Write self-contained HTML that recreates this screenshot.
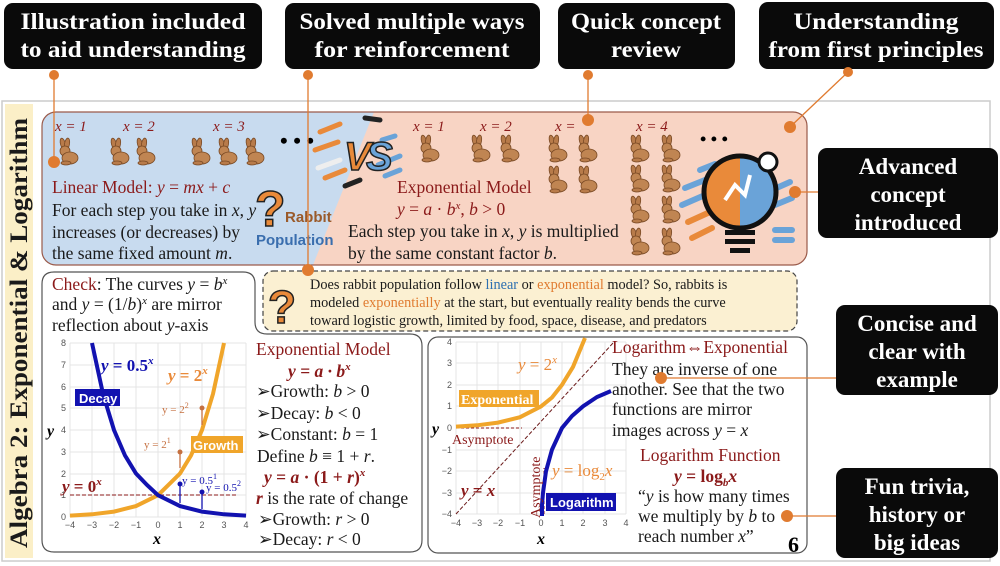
<!DOCTYPE html>
<html><head><meta charset="utf-8"><style>
html,body{margin:0;padding:0;background:#fff;}
svg{display:block;font-family:"Liberation Serif",serif;}
.w{fill:#fff;font-weight:bold;font-size:23px;}
.t{font-size:17.5px;fill:#1a1a1a;}
.r{fill:#8b1a1a;}
.i{font-style:italic;}
.o{fill:#e07b30;}
.bl{fill:#2d6fb0;}
</style></head><body>
<svg width="1000" height="566" viewBox="0 0 1000 566">
<defs>
<g id="rab">
<ellipse cx="7" cy="6" rx="2.5" ry="6" fill="#b87b4a" stroke="#7a4a25" stroke-width="0.8" transform="rotate(-15 7 6)"/>
<ellipse cx="11" cy="6" rx="2.5" ry="6" fill="#b87b4a" stroke="#7a4a25" stroke-width="0.8" transform="rotate(10 11 6)"/>
<circle cx="9" cy="13" r="5" fill="#c08552" stroke="#7a4a25" stroke-width="0.8"/>
<ellipse cx="14" cy="20" rx="8" ry="6" fill="#c08552" stroke="#7a4a25" stroke-width="0.8"/>
<ellipse cx="10" cy="25" rx="5" ry="2" fill="#b87b4a" stroke="#7a4a25" stroke-width="0.8"/>
</g>
</defs>
<rect x="2" y="101" width="988" height="460" fill="#fff" stroke="#ccc" stroke-width="1.5"/>
<rect x="5" y="104" width="28" height="454" fill="#fbefc7"/>
<text transform="translate(27,548) rotate(-90)" font-size="25" font-weight="bold" fill="#1a1a1a" textLength="430" lengthAdjust="spacingAndGlyphs">Algebra 2: Exponential &amp; Logarithm</text>

<clipPath id="tp"><rect x="42" y="112" width="765" height="153" rx="14"/></clipPath>
<g clip-path="url(#tp)">
<rect x="42" y="112" width="765" height="153" fill="#f8d4c4"/>
<polygon points="42,112 374,112 313,265 42,265" fill="#c8dbef"/>
</g>
<rect x="42" y="112" width="765" height="153" rx="14" fill="none" stroke="#9a5a4a" stroke-width="1.2"/>
<g class="r i" font-size="15">
<text x="55" y="131">x = 1</text><text x="123" y="131">x = 2</text><text x="213" y="131">x = 3</text>
<text x="413" y="131">x = 1</text><text x="480" y="131">x = 2</text><text x="555" y="131">x =</text><text x="636" y="131">x = 4</text>
</g>
<text x="280" y="148" font-size="22" font-weight="bold">• • •</text>
<text x="700" y="145" font-size="18" font-weight="bold">• • •</text>
<use href="#rab" x="56" y="138"/>
<use href="#rab" x="107" y="138"/><use href="#rab" x="133" y="138"/>
<use href="#rab" x="188" y="138"/><use href="#rab" x="215" y="138"/><use href="#rab" x="242" y="138"/>
<use href="#rab" x="417" y="135"/>
<use href="#rab" x="468" y="135"/><use href="#rab" x="497" y="135"/>
<use href="#rab" x="545" y="135"/><use href="#rab" x="575" y="135"/>
<use href="#rab" x="545" y="166"/><use href="#rab" x="575" y="166"/>
<use href="#rab" x="627" y="135"/><use href="#rab" x="658" y="135"/>
<use href="#rab" x="627" y="165"/><use href="#rab" x="658" y="165"/>
<use href="#rab" x="627" y="196"/><use href="#rab" x="658" y="196"/>
<use href="#rab" x="627" y="228"/><use href="#rab" x="658" y="228"/>
<g stroke-linecap="round" stroke-width="5">
<line x1="320" y1="132" x2="340" y2="124" stroke="#e98a3a"/><line x1="315" y1="150" x2="338" y2="142" stroke="#e98a3a"/>
<line x1="318" y1="168" x2="340" y2="160" stroke="#eee"/><line x1="325" y1="178" x2="345" y2="170" stroke="#e98a3a"/>
<line x1="345" y1="186" x2="360" y2="180" stroke="#222"/><line x1="365" y1="118" x2="380" y2="120" stroke="#222"/>
<line x1="382" y1="140" x2="395" y2="136" stroke="#6aa3d8"/><line x1="378" y1="165" x2="400" y2="156" stroke="#6aa3d8"/>
<line x1="385" y1="176" x2="400" y2="170" stroke="#6aa3d8"/>
</g>
<text x="344" y="170" font-family="Liberation Sans,sans-serif" font-size="40" font-weight="bold" font-style="italic" fill="#e98a3a" stroke="#222" stroke-width="1.5">V</text>
<text x="366" y="170" font-family="Liberation Sans,sans-serif" font-size="40" font-weight="bold" font-style="italic" fill="#6aa3d8" stroke="#222" stroke-width="1.5">S</text>
<text x="255" y="226" font-family="Liberation Sans,sans-serif" font-size="50" font-weight="bold" fill="#e98a3a" stroke="#222" stroke-width="1.5">?</text>
<text x="285" y="222" font-family="Liberation Sans,sans-serif" font-size="15" font-weight="bold" fill="#9a5a2a">Rabbit</text>
<text x="256" y="245" font-family="Liberation Sans,sans-serif" font-size="15" font-weight="bold" fill="#3a6eae">Population</text>
<g transform="translate(740,200)">
<g stroke-linecap="round" stroke-width="6">
<line x1="-55" y1="-12" x2="-30" y2="-22" stroke="#6aa3d8"/><line x1="-58" y1="5" x2="-35" y2="-5" stroke="#6aa3d8"/>
<line x1="-52" y1="22" x2="-30" y2="12" stroke="#e98a3a"/><line x1="-48" y1="38" x2="-28" y2="28" stroke="#e98a3a"/>
<line x1="-40" y1="-30" x2="-25" y2="-36" stroke="#6aa3d8"/>
<line x1="32" y1="-10" x2="50" y2="-18" stroke="#6aa3d8"/><line x1="35" y1="5" x2="52" y2="-2" stroke="#6aa3d8"/>
<line x1="35" y1="30" x2="52" y2="30" stroke="#6aa3d8"/><line x1="35" y1="40" x2="52" y2="40" stroke="#6aa3d8"/>
</g>
<circle cx="0" cy="-8" r="36" fill="#6aa3d8"/>
<path d="M0,-44 A36,36 0 0,0 0,28 Z" fill="#e98a3a"/>
<circle cx="0" cy="-8" r="36" fill="none" stroke="#111" stroke-width="5"/>
<rect x="-15" y="30" width="30" height="5" fill="#111"/><rect x="-15" y="39" width="30" height="5" fill="#111"/><rect x="-10" y="48" width="20" height="5" fill="#111"/>
<circle cx="28" cy="-38" r="9" fill="#fff" stroke="#111" stroke-width="3"/>
<path d="M-15,0 L-5,-15 L5,-5 L10,-25" stroke="#fff" stroke-width="4" fill="none"/>
</g>
<g class="t">
<text x="52" y="193" class="r">Linear Model:  <tspan class="i">y</tspan> = <tspan class="i">mx</tspan> + <tspan class="i">c</tspan></text>
<text x="52" y="216">For each step you take in <tspan class="i">x</tspan>, <tspan class="i">y</tspan></text>
<text x="52" y="238">increases (or decreases) by</text>
<text x="52" y="259">the same fixed amount <tspan class="i">m</tspan>.</text>
<text x="397" y="193" class="r">Exponential Model</text>
<text x="397" y="215" class="r"><tspan class="i">y</tspan> = <tspan class="i">a</tspan> · <tspan class="i">b<tspan font-size="11" dy="-6">x</tspan></tspan><tspan dy="6">,  </tspan><tspan class="i">b</tspan> &gt; 0</text>
<text x="348" y="237">Each step you take in <tspan class="i">x</tspan>, <tspan class="i">y</tspan> is multiplied</text>
<text x="348" y="259">by the same constant factor <tspan class="i">b</tspan>.</text>
</g>

<!-- left panel (L-shape) -->
<path d="M54,272 H243 Q255,272 255,284 V322 Q255,334 267,334 H410 Q422,334 422,346 V540 Q422,552 410,552 H54 Q42,552 42,540 V284 Q42,272 54,272 Z" fill="#fff" stroke="#555" stroke-width="1.2"/>
<!-- dashed box -->
<rect x="263" y="271" width="534" height="60" rx="10" fill="#fbf0d2" stroke="#444" stroke-width="1.2" stroke-dasharray="5,3"/>
<text x="268" y="323" font-family="Liberation Sans,sans-serif" font-size="46" font-weight="bold" fill="#e98a3a" stroke="#222" stroke-width="1.5">?</text>
<g font-size="14.3" fill="#1a1a1a">
<text x="310" y="289">Does rabbit population follow <tspan class="bl">linear</tspan> or <tspan class="o">exponential</tspan> model? So, rabbits is</text>
<text x="310" y="307">modeled <tspan class="o">exponentially</tspan> at the start, but eventually reality bends the curve</text>
<text x="310" y="325">toward logistic growth, limited by food, space, disease, and predators</text>
</g>
<g class="t" font-size="17">
<text x="52" y="290"><tspan class="r">Check</tspan>: The curves <tspan class="i">y</tspan> = <tspan class="i">b</tspan><tspan font-size="11" dy="-6" class="i">x</tspan></text>
<text x="52" y="310">and <tspan class="i">y</tspan> = (1/<tspan class="i">b</tspan>)<tspan font-size="11" dy="-6" class="i">x</tspan><tspan dy="6"> are mirror</tspan></text>
<text x="52" y="331">reflection about <tspan class="i">y</tspan>-axis</text>
</g>
<g stroke="#e4e4e4" stroke-width="1">
<line x1="70" y1="343" x2="70" y2="517"/><line x1="92" y1="343" x2="92" y2="517"/><line x1="114" y1="343" x2="114" y2="517"/><line x1="136" y1="343" x2="136" y2="517"/><line x1="158" y1="343" x2="158" y2="517"/><line x1="180" y1="343" x2="180" y2="517"/><line x1="202" y1="343" x2="202" y2="517"/><line x1="224" y1="343" x2="224" y2="517"/><line x1="246" y1="343" x2="246" y2="517"/>
<line x1="70" y1="343" x2="246" y2="343"/><line x1="70" y1="365" x2="246" y2="365"/><line x1="70" y1="387" x2="246" y2="387"/><line x1="70" y1="408" x2="246" y2="408"/><line x1="70" y1="430" x2="246" y2="430"/><line x1="70" y1="452" x2="246" y2="452"/><line x1="70" y1="474" x2="246" y2="474"/><line x1="70" y1="495" x2="246" y2="495"/><line x1="70" y1="517" x2="246" y2="517"/>
</g>
<g font-family="Liberation Sans,sans-serif" font-size="9" fill="#555" text-anchor="end">
<text x="66" y="346">8</text><text x="66" y="368">7</text><text x="66" y="390">6</text><text x="66" y="411">5</text><text x="66" y="433">4</text><text x="66" y="455">3</text><text x="66" y="477">2</text><text x="66" y="498">1</text><text x="66" y="520">0</text>
</g>
<g font-family="Liberation Sans,sans-serif" font-size="9" fill="#555" text-anchor="middle">
<text x="70" y="528">−4</text><text x="92" y="528">−3</text><text x="114" y="528">−2</text><text x="136" y="528">−1</text><text x="158" y="528">0</text><text x="180" y="528">1</text><text x="202" y="528">2</text><text x="224" y="528">3</text><text x="246" y="528">4</text>
</g>
<text x="153" y="544" font-size="16" font-weight="bold" font-style="italic">x</text>
<text x="47" y="436" font-size="16" font-weight="bold" font-style="italic">y</text>
<line x1="70" y1="495" x2="238" y2="495" stroke="#8b1a1a" stroke-dasharray="4,2" stroke-width="1"/>
<polyline points="70,515.6 92,514.3 114,511.6 136,506.1 158,495.2 180,473.5 191,455.5 202,430 213,393.9 224,343" fill="none" stroke="#f0a52a" stroke-width="4"/>
<polyline points="92,343 103,393.9 114,430 125,455.5 136,473.5 147,485 158,495.2 180,506.1 202,511.6 224,514.3 246,515.6" fill="none" stroke="#1212b0" stroke-width="4"/>
<text x="101" y="371" font-size="17" font-weight="bold" fill="#1212b0"><tspan class="i">y</tspan> = 0.5<tspan font-size="11" dy="-7" class="i">x</tspan></text>
<text x="168" y="381" font-size="17" font-weight="bold" fill="#e98a3a"><tspan class="i">y</tspan> = 2<tspan font-size="11" dy="-7" class="i">x</tspan></text>
<rect x="75" y="389" width="45" height="17" fill="#1212b0"/>
<text x="79" y="403" font-family="Liberation Sans,sans-serif" font-size="13" font-weight="bold" fill="#fff">Decay</text>
<rect x="191" y="436" width="52" height="17" fill="#f0a52a"/>
<text x="193" y="450" font-family="Liberation Sans,sans-serif" font-size="13" font-weight="bold" fill="#fff">Growth</text>
<text x="62" y="492" font-size="17" font-weight="bold" fill="#8b1a1a"><tspan class="i">y</tspan> = 0<tspan font-size="11" dy="-7" class="i">x</tspan></text>
<g font-size="11" fill="#c57040">
<text x="162" y="413">y = 2<tspan font-size="8" dy="-5">2</tspan></text>
<text x="144" y="448">y = 2<tspan font-size="8" dy="-5">1</tspan></text>
</g>
<g fill="#1212b0" font-size="11"><text x="182" y="484">y = 0.5<tspan font-size="8" dy="-5">1</tspan></text><text x="206" y="491">y = 0.5<tspan font-size="8" dy="-5">2</tspan></text></g>
<g stroke="#c57040" stroke-width="1.3"><line x1="202" y1="408" x2="202" y2="425"/><line x1="180" y1="452" x2="180" y2="468"/></g>
<circle cx="202" cy="408" r="2.5" fill="#c57040"/><circle cx="180" cy="452" r="2.5" fill="#c57040"/>
<g stroke="#1212b0" stroke-width="1.3"><line x1="180" y1="484" x2="180" y2="503"/><line x1="202" y1="492" x2="202" y2="509"/></g>
<circle cx="180" cy="484" r="2.5" fill="#1212b0"/><circle cx="202" cy="492" r="2.5" fill="#1212b0"/>
<g class="t" font-size="17.3">
<text x="256" y="355" class="r">Exponential Model</text>
<text x="288" y="377" class="r" font-weight="bold" font-style="italic">y = a · b<tspan font-size="11" dy="-7">x</tspan></text>
<text x="256" y="397">➢Growth: <tspan class="i">b</tspan> &gt; 0</text>
<text x="256" y="419">➢Decay: <tspan class="i">b</tspan> &lt; 0</text>
<text x="256" y="440">➢Constant: <tspan class="i">b</tspan> = 1</text>
<text x="257" y="462">Define <tspan class="i">b</tspan> ≡ 1 + <tspan class="i">r</tspan>.</text>
<text x="264" y="483" class="r" font-weight="bold"><tspan class="i">y</tspan> = <tspan class="i">a</tspan> · (1 + <tspan class="i">r</tspan>)<tspan font-size="11" dy="-7" class="i">x</tspan></text>
<text x="256" y="504"><tspan class="r i" font-weight="bold">r</tspan> is the rate of change</text>
<text x="258" y="525">➢Growth: <tspan class="i">r</tspan> &gt; 0</text>
<text x="258" y="545">➢Decay: <tspan class="i">r</tspan> &lt; 0</text>
</g>

<rect x="428" y="337" width="379" height="216" rx="10" fill="#fff" stroke="#555" stroke-width="1.2"/>
<g stroke="#e4e4e4" stroke-width="1">
<line x1="456" y1="342" x2="456" y2="514"/><line x1="477" y1="342" x2="477" y2="514"/><line x1="498" y1="342" x2="498" y2="514"/><line x1="520" y1="342" x2="520" y2="514"/><line x1="541" y1="342" x2="541" y2="514"/><line x1="562" y1="342" x2="562" y2="514"/><line x1="583" y1="342" x2="583" y2="514"/><line x1="605" y1="342" x2="605" y2="514"/><line x1="626" y1="342" x2="626" y2="514"/>
<line x1="456" y1="342" x2="626" y2="342"/><line x1="456" y1="363" x2="626" y2="363"/><line x1="456" y1="385" x2="626" y2="385"/><line x1="456" y1="406" x2="626" y2="406"/><line x1="456" y1="428" x2="626" y2="428"/><line x1="456" y1="450" x2="626" y2="450"/><line x1="456" y1="471" x2="626" y2="471"/><line x1="456" y1="493" x2="626" y2="493"/><line x1="456" y1="514" x2="626" y2="514"/>
</g>
<g font-family="Liberation Sans,sans-serif" font-size="9" fill="#555" text-anchor="end">
<text x="452" y="345">4</text><text x="452" y="366">3</text><text x="452" y="388">2</text><text x="452" y="409">1</text><text x="452" y="431">0</text><text x="452" y="453">−1</text><text x="452" y="474">−2</text><text x="452" y="496">−3</text><text x="452" y="517">−4</text>
</g>
<g font-family="Liberation Sans,sans-serif" font-size="9" fill="#555" text-anchor="middle">
<text x="456" y="526">−4</text><text x="477" y="526">−3</text><text x="498" y="526">−2</text><text x="520" y="526">−1</text><text x="541" y="526">0</text><text x="562" y="526">1</text><text x="583" y="526">2</text><text x="605" y="526">3</text><text x="626" y="526">4</text>
</g>
<text x="537" y="544" font-size="16" font-weight="bold" font-style="italic">x</text>
<text x="432" y="434" font-size="16" font-weight="bold" font-style="italic">y</text>
<line x1="456" y1="514" x2="614" y2="342" stroke="#6b1a1a" stroke-dasharray="4,2" stroke-width="1"/>
<line x1="456" y1="428" x2="522" y2="428" stroke="#8b1a1a" stroke-dasharray="3,2" stroke-width="1"/>
<line x1="544" y1="514" x2="544" y2="468" stroke="#8b1a1a" stroke-dasharray="3,2" stroke-width="1"/>
<polyline points="456,426.6 477,425.3 498,422.6 520,417.2 541,406.4 552,397.5 562,384.8 573,366.9 585,338" fill="none" stroke="#f0a52a" stroke-width="4"/>
<polyline points="542,516 542,505 543,492.8 546,471.2 552,449.6 562,428 572,416 583,406.4 597,397 611,391" fill="none" stroke="#1212b0" stroke-width="4"/>
<text x="518" y="370" font-size="17" fill="#e98a3a"><tspan class="i">y</tspan> = 2<tspan font-size="11" dy="-7" class="i">x</tspan></text>
<rect x="459" y="390" width="80" height="17" fill="#f0a52a"/>
<text x="461" y="404" font-size="14" font-weight="bold" fill="#fff">Exponential</text>
<text x="452" y="444" font-size="14" fill="#8b1a1a">Asymptote</text>
<text transform="translate(540,518) rotate(-90)" font-size="14" fill="#8b1a1a">Asymptote</text>
<text x="552" y="476" font-size="17" fill="#e98a3a"><tspan class="i">y</tspan> = log<tspan font-size="11" dy="4">2</tspan><tspan dy="-4" class="i">x</tspan></text>
<text x="461" y="496" font-size="17" font-weight="bold" fill="#8b1a1a"><tspan class="i">y</tspan> = <tspan class="i">x</tspan></text>
<rect x="546" y="493" width="70" height="18" fill="#1212b0"/>
<text x="550" y="507" font-family="Liberation Sans,sans-serif" font-size="13" font-weight="bold" fill="#fff">Logarithm</text>
<g class="t" font-size="17">
<text x="612" y="353" class="r">Logarithm⇔Exponential</text>
<text x="612" y="375">They are inverse of one</text>
<text x="612" y="395">another. See that the two</text>
<text x="612" y="415">functions are mirror</text>
<text x="612" y="436">images across <tspan class="i">y</tspan> = <tspan class="i">x</tspan></text>
<text x="640" y="461" class="r">Logarithm Function</text>
<text x="674" y="482" class="r" font-weight="bold"><tspan class="i">y</tspan> = log<tspan font-size="11" dy="4" class="i">b</tspan><tspan dy="-4" class="i">x</tspan></text>
<text x="638" y="502">“<tspan class="i">y</tspan> is how many times</text>
<text x="638" y="522">we multiply by <tspan class="i">b</tspan> to</text>
<text x="638" y="542">reach number <tspan class="i">x</tspan>”</text>
</g>
<text x="788" y="552" font-size="22" font-weight="bold">6</text>

<g fill="#0a0a0a">
<rect x="4" y="3" width="258" height="66" rx="9"/>
<rect x="285" y="3" width="255" height="66" rx="9"/>
<rect x="558" y="3" width="177" height="66" rx="9"/>
<rect x="759" y="2" width="235" height="67" rx="9"/>
<rect x="818" y="148" width="180" height="90" rx="9"/>
<rect x="836" y="305" width="162" height="90" rx="9"/>
<rect x="836" y="468" width="162" height="90" rx="9"/>
</g>
<g class="w" text-anchor="middle">
<text x="133" y="29" textLength="225" lengthAdjust="spacingAndGlyphs">Illustration included</text>
<text x="133" y="57" textLength="225" lengthAdjust="spacingAndGlyphs">to aid understanding</text>
<text x="412" y="29" textLength="225" lengthAdjust="spacingAndGlyphs">Solved multiple ways</text>
<text x="412" y="57" textLength="195" lengthAdjust="spacingAndGlyphs">for reinforcement</text>
<text x="646" y="29" textLength="150" lengthAdjust="spacingAndGlyphs">Quick concept</text>
<text x="646" y="57" textLength="70" lengthAdjust="spacingAndGlyphs">review</text>
<text x="876" y="29" textLength="165" lengthAdjust="spacingAndGlyphs">Understanding</text>
<text x="876" y="57" textLength="215" lengthAdjust="spacingAndGlyphs">from first principles</text>
<text x="908" y="174">Advanced</text>
<text x="908" y="202">concept</text>
<text x="908" y="230">introduced</text>
<text x="917" y="331">Concise and</text>
<text x="917" y="359">clear with</text>
<text x="917" y="387">example</text>
<text x="917" y="494">Fun trivia,</text>
<text x="917" y="522">history or</text>
<text x="917" y="550">big ideas</text>
</g>
<g stroke="#e07b30" stroke-width="1.3">
<line x1="54" y1="75" x2="54" y2="162"/>
<line x1="308" y1="75" x2="308" y2="270"/>
<line x1="588" y1="75" x2="588" y2="120"/>
<line x1="848" y1="72" x2="790" y2="127"/>
<line x1="795" y1="192" x2="818" y2="192"/>
<line x1="661" y1="378" x2="836" y2="378"/>
<line x1="787" y1="516" x2="836" y2="516"/>
</g>
<g fill="#e07b30">
<circle cx="54" cy="75" r="5"/><circle cx="308" cy="75" r="5"/><circle cx="588" cy="75" r="5"/><circle cx="848" cy="72" r="5"/>
<circle cx="54" cy="162" r="6"/><circle cx="308" cy="270" r="6"/><circle cx="588" cy="120" r="6"/><circle cx="790" cy="127" r="6"/>
<circle cx="795" cy="192" r="6"/><circle cx="661" cy="378" r="6"/><circle cx="787" cy="516" r="6"/>
</g>
</svg>
</body></html>
